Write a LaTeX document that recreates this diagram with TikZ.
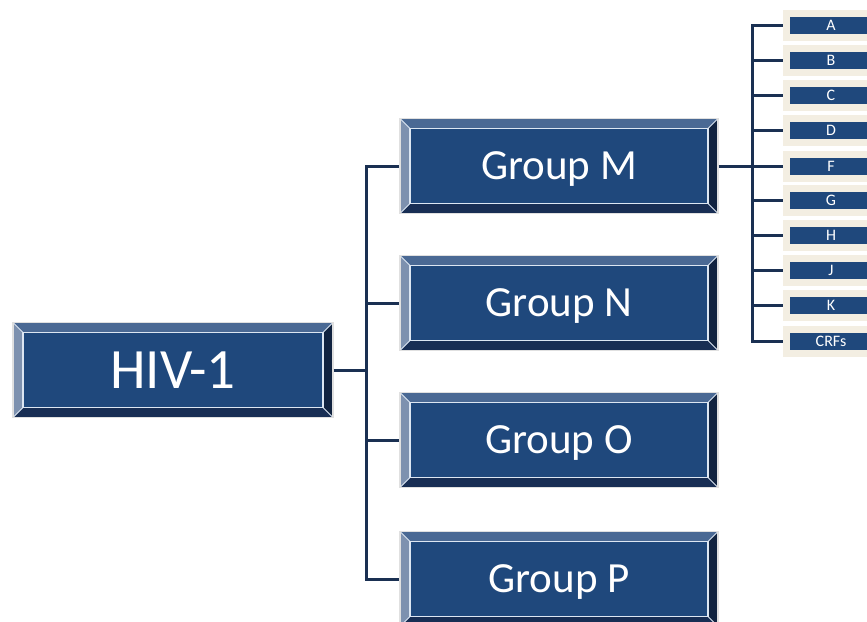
\documentclass[tikz,border=0pt]{standalone}
\usepackage{fontspec}
\setmainfont{Carlito}
\definecolor{boxface}{HTML}{1F487C}
\definecolor{bevtop}{HTML}{4A6994}
\definecolor{bevleft}{HTML}{7D91AF}
\definecolor{bevright}{HTML}{112340}
\definecolor{bevbot}{HTML}{182E54}
\definecolor{hlcol}{HTML}{DCE6F2}
\definecolor{linecol}{HTML}{1A3052}
\definecolor{beige}{HTML}{F3EEE2}
\newcommand\drawbevel[1]{%
	\coordinate (bnw) at (path picture bounding box.north west);
	\coordinate (bne) at (path picture bounding box.north east);
	\coordinate (bse) at (path picture bounding box.south east);
	\coordinate (bsw) at (path picture bounding box.south west);
	\coordinate (inw) at ([xshift=#1,yshift=-#1]bnw);
	\coordinate (ine) at ([xshift=-#1,yshift=-#1]bne);
	\coordinate (ise) at ([xshift=-#1,yshift=#1]bse);
	\coordinate (isw) at ([xshift=#1,yshift=#1]bsw);
	\fill[bevtop] (bnw) -- (bne) -- (ine) -- (inw) -- cycle;
	\fill[bevright] (bne) -- (bse) -- (ise) -- (ine) -- cycle;
	\fill[bevbot] (bse) -- (bsw) -- (isw) -- (ise) -- cycle;
	\fill[bevleft] (bsw) -- (bnw) -- (inw) -- (isw) -- cycle;
	\draw[hlcol,line width=0.8pt] (bnw) -- (inw) (bne) -- (ine) (bse) -- (ise) (bsw) -- (isw);
	\draw[hlcol,line width=1.8pt] (inw) rectangle (ise);
}
\tikzset{
	bevelbox/.style={minimum width=318pt,minimum height=95pt,inner sep=0pt,text depth=0pt,fill=boxface,draw=black!12,line width=1.2pt,text=white,path picture={\drawbevel{10pt}},font=\fontsize{43}{46}\selectfont},
	subbox/.style={minimum width=82pt,minimum height=17pt,inner sep=0pt,fill=boxface,text=white,preaction={draw=beige,line width=14pt},font=\fontsize{16}{17}\selectfont},
	conn/.style={draw=linecol,line width=3pt}
}
\begin{document}
\begin{tikzpicture}[x=1pt,y=-1pt]
	\useasboundingbox[fill=white] (0,0) rectangle (867,621);
	
	\node[bevelbox,minimum width=320pt,font=\fontsize{57}{60}\selectfont] (hiv) at (173,370){HIV-1};
	
	\node[bevelbox] (gm) at (559,166){Group M};
	\node[bevelbox] (gn) at (559,303){Group N};
	\node[bevelbox] (go) at (559,440){Group O};
	\node[bevelbox] (gp) at (559,579){Group P};
	
	\node[subbox] (sa) at (831,25){A};
	\node[subbox] (sb) at (831,60){B};
	\node[subbox] (sc) at (831,95){C};
	\node[subbox] (sd) at (831,130){D};
	\node[subbox] (sf) at (831,166){F};
	\node[subbox] (sg) at (831,200){G};
	\node[subbox] (sh) at (831,235){H};
	\node[subbox] (sj) at (831,270){J};
	\node[subbox] (sk) at (831,305){K};
	\node[subbox] (scrf) at (831,341){CRFs};
	
	\coordinate (jl) at (366,370);
	\coordinate (jr) at (752,166);
	
	\draw[conn] (hiv.east) -- (jl);
	\draw[conn] (jl) |- (gm.west);
	\draw[conn] (jl) |- (gn.west);
	\draw[conn] (jl) |- (go.west);
	\draw[conn] (jl) |- (gp.west);
	
	\draw[conn] (gm.east) -- (jr);
	\draw[conn,shorten >=7pt] (jr) |- (sa.west);
	\draw[conn,shorten >=7pt] (jr) |- (sb.west);
	\draw[conn,shorten >=7pt] (jr) |- (sc.west);
	\draw[conn,shorten >=7pt] (jr) |- (sd.west);
	\draw[conn,shorten >=7pt] (jr) |- (sf.west);
	\draw[conn,shorten >=7pt] (jr) |- (sg.west);
	\draw[conn,shorten >=7pt] (jr) |- (sh.west);
	\draw[conn,shorten >=7pt] (jr) |- (sj.west);
	\draw[conn,shorten >=7pt] (jr) |- (sk.west);
	\draw[conn,shorten >=7pt] (jr) |- (scrf.west);
\end{tikzpicture}
\end{document}
